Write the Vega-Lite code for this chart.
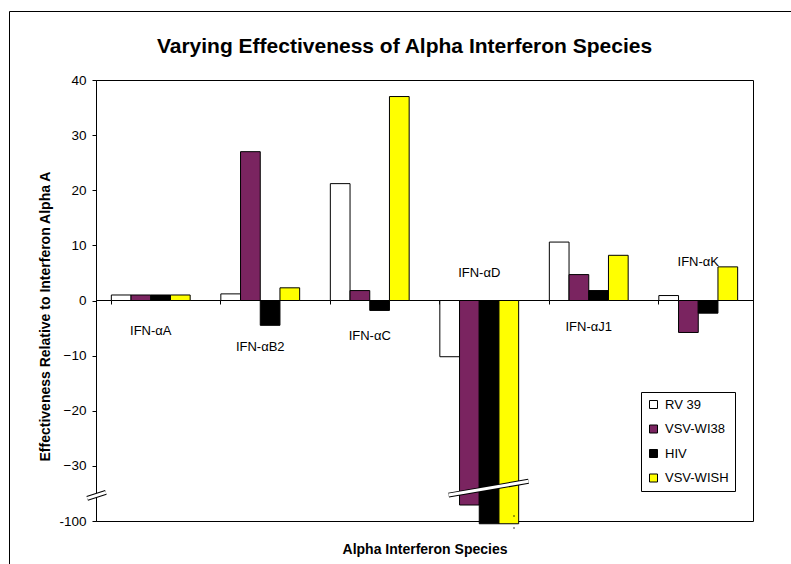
{
  "$schema": "https://vega.github.io/schema/vega-lite/v6.json",
  "width": 657,
  "height": 441,
  "autosize": {"type": "none"},
  "padding": {"left": 96, "top": 80, "right": 38, "bottom": 43},
  "background": "white",
  "config": {
    "view": {"stroke": "black", "strokeWidth": 1},
    "font": "Liberation Sans",
    "axis": {"labelFont": "Liberation Sans", "titleFont": "Liberation Sans"},
    "legend": {"labelFont": "Liberation Sans"}
  },
  "title": {
    "text": "Varying Effectiveness of Alpha Interferon Species",
    "font": "Liberation Sans",
    "fontSize": 21,
    "fontWeight": "bold",
    "color": "black",
    "anchor": "middle",
    "dx": -20,
    "offset": -63,
    "baseline": "alphabetic"
  },
  "datasets": {
    "bars": [
      {"species": "IFN-αA", "assay": "RV 39", "value": 1},
      {"species": "IFN-αA", "assay": "VSV-WI38", "value": 1},
      {"species": "IFN-αA", "assay": "HIV", "value": 1},
      {"species": "IFN-αA", "assay": "VSV-WISH", "value": 1},
      {"species": "IFN-αB2", "assay": "RV 39", "value": 1.2},
      {"species": "IFN-αB2", "assay": "VSV-WI38", "value": 27},
      {"species": "IFN-αB2", "assay": "HIV", "value": -4.5},
      {"species": "IFN-αB2", "assay": "VSV-WISH", "value": 2.3},
      {"species": "IFN-αC", "assay": "RV 39", "value": 21.2},
      {"species": "IFN-αC", "assay": "VSV-WI38", "value": 1.8},
      {"species": "IFN-αC", "assay": "HIV", "value": -1.8},
      {"species": "IFN-αC", "assay": "VSV-WISH", "value": 37},
      {"species": "IFN-αD", "assay": "RV 39", "value": -10.2},
      {"species": "IFN-αD", "assay": "VSV-WI38", "value": -37.1},
      {"species": "IFN-αD", "assay": "HIV", "value": -40.5},
      {"species": "IFN-αD", "assay": "VSV-WISH", "value": -40.5},
      {"species": "IFN-αJ1", "assay": "RV 39", "value": 10.6},
      {"species": "IFN-αJ1", "assay": "VSV-WI38", "value": 4.7},
      {"species": "IFN-αJ1", "assay": "HIV", "value": 1.8},
      {"species": "IFN-αJ1", "assay": "VSV-WISH", "value": 8.2},
      {"species": "IFN-αK", "assay": "RV 39", "value": 0.9},
      {"species": "IFN-αK", "assay": "VSV-WI38", "value": -5.8},
      {"species": "IFN-αK", "assay": "HIV", "value": -2.3},
      {"species": "IFN-αK", "assay": "VSV-WISH", "value": 6.1}
    ],
    "breaks": [
      {"part": "axis", "x0": -0.08, "x1": 0.09, "y0": -35.9, "y1": -34.8},
      {"part": "bars", "x0": 3.22, "x1": 3.95, "y0": -35.3, "y1": -32.8}
    ]
  },
  "layer": [
    {
      "data": {"name": "bars"},
      "mark": {"type": "bar", "stroke": "black", "strokeWidth": 1},
      "encoding": {
        "x": {
          "field": "species",
          "type": "nominal",
          "sort": ["IFN-αA", "IFN-αB2", "IFN-αC", "IFN-αD", "IFN-αJ1", "IFN-αK"],
          "scale": {"paddingInner": 0.28, "paddingOuter": 0.14},
          "axis": {
            "orient": "bottom",
            "offset": -221,
            "domainColor": "black",
            "tickColor": "black",
            "tickSize": 4,
            "bandPosition": 0,
            "labelOffset": 0,
            "labelAngle": 0,
            "labelFontSize": 13,
            "labelColor": "black",
            "labelBaseline": "middle",
            "labelOverlap": false,
            "labelFlush": false,
            "labelPadding": {
              "condition": [
                {"test": "datum.value == 'IFN-αA'", "value": 26},
                {"test": "datum.value == 'IFN-αB2'", "value": 42},
                {"test": "datum.value == 'IFN-αC'", "value": 31},
                {"test": "datum.value == 'IFN-αD'", "value": -32},
                {"test": "datum.value == 'IFN-αK'", "value": -43}
              ],
              "value": 22
            },
            "title": "Alpha Interferon Species",
            "titleFontSize": 14,
            "titleFontWeight": "bold",
            "titleColor": "black",
            "titleBaseline": "alphabetic",
            "titleY": 253
          }
        },
        "xOffset": {
          "field": "assay",
          "type": "nominal",
          "sort": ["RV 39", "VSV-WI38", "HIV", "VSV-WISH"],
          "scale": {"paddingInner": 0, "paddingOuter": 0}
        },
        "y": {
          "field": "value",
          "type": "quantitative",
          "scale": {"domain": [-40, 40], "nice": false, "zero": false},
          "axis": {
            "values": [-40, -30, -20, -10, 0, 10, 20, 30, 40],
            "labelExpr": "datum.value == -40 ? '-100' : datum.label",
            "grid": false,
            "tickSize": 4,
            "tickColor": "black",
            "domainColor": "black",
            "labelPadding": 6,
            "labelFontSize": 13.5,
            "labelColor": "black",
            "title": "Effectiveness Relative to Interferon Alpha A",
            "titleFontSize": 14,
            "titleFontWeight": "bold",
            "titleColor": "black",
            "titlePadding": 6,
            "titleY": 236
          }
        },
        "color": {
          "field": "assay",
          "type": "nominal",
          "scale": {
            "domain": ["RV 39", "VSV-WI38", "HIV", "VSV-WISH"],
            "range": ["#FFFFFF", "#7A2460", "#000000", "#FFFF00"]
          },
          "legend": {
            "orient": "none",
            "legendX": 545,
            "legendY": 312,
            "title": null,
            "fillColor": "white",
            "strokeColor": "black",
            "padding": 6,
            "symbolType": "square",
            "symbolSize": 64,
            "symbolStrokeColor": "black",
            "symbolStrokeWidth": 1,
            "labelFontSize": 13,
            "labelColor": "black",
            "labelOffset": 5,
            "rowPadding": 10.5
          }
        }
      }
    },
    {
      "data": {"name": "breaks"},
      "mark": {"type": "rule", "stroke": "black", "strokeWidth": 5, "strokeCap": "butt"},
      "encoding": {
        "x": {"field": "x0", "type": "quantitative", "scale": {"domain": [0, 6], "nice": false, "zero": false}, "axis": null},
        "x2": {"field": "x1"},
        "y": {"field": "y0", "type": "quantitative"},
        "y2": {"field": "y1"},
        "opacity": {
          "field": "part",
          "type": "nominal",
          "scale": {"range": [1, 1]},
          "legend": {
            "orient": "none",
            "legendX": -87,
            "legendY": -69,
            "title": null,
            "strokeColor": "black",
            "padding": 500,
            "symbolOpacity": 0,
            "symbolSize": 1,
            "labelExpr": "''"
          }
        }
      }
    },
    {
      "data": {"name": "breaks"},
      "mark": {"type": "rule", "stroke": "white", "strokeWidth": 3, "strokeCap": "butt"},
      "encoding": {
        "x": {"field": "x0", "type": "quantitative", "scale": {"domain": [0, 6], "nice": false, "zero": false}, "axis": null},
        "x2": {"field": "x1"},
        "y": {"field": "y0", "type": "quantitative"},
        "y2": {"field": "y1"},
        "opacity": {"field": "part", "type": "nominal", "scale": {"range": [1, 1]}}
      }
    }
  ],
  "resolve": {"scale": {"x": "independent"}, "axis": {"x": "independent"}}
}
